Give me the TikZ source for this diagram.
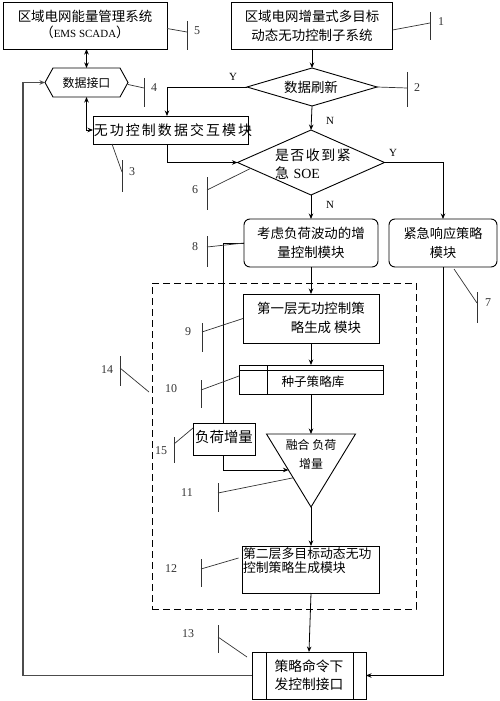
\documentclass[tikz,border=0pt]{standalone}
\usepackage{fontspec}
\setmainfont{Liberation Serif}
\newfontfamily\cjk{Noto Sans CJK SC}
\newcommand\cjkf[2]{\cjk\fontsize{#1}{#2}\selectfont}
\usetikzlibrary{arrows.meta,calc}
\begin{document}
\begin{tikzpicture}[x=1bp,y=-1bp,
  every node/.style={inner sep=0pt, outer sep=0pt},
  box/.style={draw, line width=0.9bp, fill=white, align=center},
  shp/.style={line width=0.9bp},
  arr/.style={-{Stealth[length=5.5bp,width=4.5bp]}, line width=0.8bp},
  darr/.style={{Stealth[length=5.5bp,width=4.5bp]}-{Stealth[length=5.5bp,width=4.5bp]}, line width=0.8bp},
  lead/.style={line width=0.7bp, draw=black!80},
  num/.style={font=\fontsize{12}{12}\selectfont, text=black!80},
  yn/.style={font=\fontsize{11}{11}\selectfont},
  txt/.style={font={\cjkf{13.5}{19}}, align=center}
]
\useasboundingbox (0,0) rectangle (500,701);

% ---- nodes ----
\node[box, minimum width=164bp, minimum height=47bp] (b5) at (85,25.5) {};
\node[txt, font={\cjkf{13.5}{17}}] (b5t) at (85,24.5) {区域电网能量管理系统\\（{\rmfamily\fontsize{11}{17}\selectfont EMS SCADA}）};

\node[box, minimum width=161bp, minimum height=47bp] (b1) at (312,25.5) {};
\node[txt] (b1t) at (312,25.5) {区域电网增量式多目标\\动态无功控制子系统};

\node[minimum width=83bp, minimum height=29bp] (hex) at (86.5,82.5) {};
\draw[shp] (hex.west) -- ($(hex.north west)+(8,0)$) -- ($(hex.north east)+(-8,0)$) -- (hex.east)
  -- ($(hex.south east)+(-8,0)$) -- ($(hex.south west)+(8,0)$) -- cycle;
\node[txt, font={\cjkf{12}{14}}] (hext) at (86.5,82.5) {数据接口};

\node[box, minimum width=155bp, minimum height=28bp] (b3) at (170.5,130) {};
\node[txt, font={\cjkf{14}{17}\addfontfeature{LetterSpace=15}}] (b3t) at (173,130) {无功控制数据交互模块};

\node[minimum width=130bp, minimum height=38bp] (d1) at (312,87) {};
\draw[shp] (d1.west) -- (d1.north) -- (d1.east) -- (d1.south) -- cycle;
\node[txt] (d1t) at (311,87) {数据刷新};

\node[minimum width=147bp, minimum height=65bp] (d2) at (311,162.5) {};
\draw[shp] (d2.west) -- (d2.north) -- (d2.east) -- (d2.south) -- cycle;
\node[txt, font={\cjkf{14}{18}\addfontfeature{LetterSpace=11}}, align=left, anchor=west] (d2t) at (275,164) {是否收到紧\\急 {\rmfamily SOE}};

\node[box, rounded corners=6bp, minimum width=134bp, minimum height=48bp] (b8) at (311,243) {};
\node[txt] (b8t) at (311,242.5) {考虑负荷波动的增\\量控制模块};

\node[box, rounded corners=6bp, minimum width=108bp, minimum height=48bp] (em) at (443,243) {};
\node[txt, font={\cjkf{13.2}{19}}] (emt) at (443,242.5) {紧急响应策略\\模块};

\node[draw, dashed, dash pattern=on 7bp off 4bp, line width=0.9bp, minimum width=264bp, minimum height=326bp] (dash) at (284,446) {};

\node[box, minimum width=136bp, minimum height=49bp] (b9) at (311,318.5) {};
\node[txt, align=left] (b9t) at (311,317.5) {第一层无功控制策\\\hspace*{2.5em}略生成 模块};

\node[box, minimum width=144bp, minimum height=29bp] (b10) at (311,379.5) {};
\draw[shp] ($(b10.north west)+(0,5)$) -- ($(b10.north east)+(0,5)$);
\draw[shp] ($(b10.north west)+(28,0)$) -- ($(b10.south west)+(28,0)$);
\node[txt, font={\cjkf{12.6}{14}}] (b10t) at (313,382) {种子策略库};

\node[minimum width=89bp, minimum height=73bp] (tri) at (311,470.5) {};
\draw[shp] (tri.north west) -- (tri.north east) -- (tri.south) -- cycle;
\node[txt, font={\cjkf{12}{19}}] (trit) at (311,454.5) {融合 负荷\\增量};
\coordinate (tp) at ($(tri.north west)!0.493!(tri.south)$);

\coordinate (lx) at (223,0);
\draw[arr] (b8.west) -| (lx |- tp) -- (tp);

\node[box, minimum width=62bp, minimum height=32bp] (fh) at (224,439) {};
\node[txt, font={\cjkf{14.5}{16}}] (fht) at (224,437) {负荷增量};

\node[box, minimum width=137bp, minimum height=47bp] (b12) at (311,569.5) {};
\node[txt, font={\cjkf{12.9}{14}}, align=left, anchor=north west] (b12t) at (243,548) {第二层多目标动态无功\\控制策略生成模块};

\node[box, minimum width=114bp, minimum height=47bp] (pc) at (309,675.5) {};
\draw[shp] ($(pc.north west)+(14,0)$) -- ($(pc.south west)+(14,0)$);
\draw[shp] ($(pc.north east)+(-13,0)$) -- ($(pc.south east)+(-13,0)$);
\node[txt, font={\cjkf{13.8}{18}}] (pct) at (309,675) {策略命令下\\发控制接口};

% ---- connectors ----
\coordinate (yx) at (167,0);
\coordinate (lx2) at (23,0);
\draw[darr] (b5.south -| hex.north) -- (hex.north);
\draw[darr] (hex.south) |- (b3.west);
\draw[arr] (b1.south) -- (d1.north);
\draw[arr] (d1.west) -| (b3.north -| yx);
\draw[arr] (d1.south) -- (d2.north);
\draw[arr] (b3.south -| yx) |- (d2.west);
\draw[arr] (d2.east) -| (em.north);
\draw[arr] (d2.south) -- (b8.north);
\draw[arr] (b8.south) -- (b9.north);
\draw[arr] (b9.south) -- (b10.north);
\draw[arr] (b10.south) -- (tri.north);
\draw[arr] (tri.south) -- (b12.north);
\draw[arr] (b12.south) -- (pc.north);
\draw[arr] (em.south) |- (pc.east);
\draw[arr, line width=1.3bp, draw=black!70] (pc.west) -| (lx2 |- hex.west) -- (hex.west);

\node[yn] (y1) at (233,77) {Y};
\node[yn] (n1) at (330,121) {N};
\node[yn] (y2) at (393,153) {Y};
\node[yn] (n2) at (330,205) {N};

% ---- reference labels ----
\draw[lead] ($(b5.east)+(0,3)$) -- (187,32); \draw[lead] (187,21) -- (187,50); \node[num] (l5) at (197,31) {5};
\draw[lead] ($(b1.east)+(0,4.5)$) -- (430,23); \draw[lead] (430,12) -- (430,40); \node[num] (l1) at (441,22) {1};
\draw[lead] ($(hex.east)+(0,2)$) -- (144,88); \draw[lead] (144,78) -- (144,107); \node[num] (l4) at (154,88) {4};
\draw[lead] (d1.east) -- (407,88); \draw[lead] (407,72) -- (407,107); \node[num] (l2) at (417,88) {2};
\draw[lead] ($(b3.south west)+(19,0)$) -- (122,172); \draw[lead] (122,160) -- (122,192); \node[num] (l3) at (132,172) {3};
\draw[lead] ($(d2.west)!0.18!(d2.south)$) -- (207,190); \draw[lead] (207,177) -- (207,210); \node[num] (l6) at (195,190) {6};
\draw[lead] (b8.west) -- (207,247); \draw[lead] (207,236) -- (207,267); \node[num] (l8) at (195,247) {8};
\draw[lead] ($(em.south)+(11,2)$) -- (477,303); \draw[lead] (477,292) -- (477,323); \node[num] (l7) at (488,303) {7};
\draw[lead] (b9.west) -- (202,332); \draw[lead] (202,323) -- (202,352); \node[num] (l9) at (188,332) {9};
\draw[lead] ($(dash.north west)+(-3,109)$) -- (120,368); \draw[lead] (120,356) -- (120,386); \node[num] (l14) at (107,370) {14};
\draw[lead] ($(b10.west)+(0,-3.5)$) -- (201,390); \draw[lead] (201,380) -- (201,408); \node[num] (l10) at (171,389) {10};
\draw[lead] ($(fh.north west)+(0,5)$) -- (174,444); \draw[lead] (174,437) -- (174,463); \node[num] (l15) at (161,451) {15};
\draw[lead] ($(tri.north west)!0.6!(tri.south)$) -- (218,493); \draw[lead] (218,483) -- (218,512); \node[num] (l11) at (187,493) {11};
\draw[lead] ($(b12.west)+(-4,-11.5)$) -- (201,569); \draw[lead] (201,559) -- (201,587); \node[num] (l12) at (171,569) {12};
\draw[lead] ($(pc.north west)+(-5,5)$) -- (218,637); \draw[lead] (218,625) -- (218,653); \node[num] (l13) at (188,634) {13};
\end{tikzpicture}
\end{document}
